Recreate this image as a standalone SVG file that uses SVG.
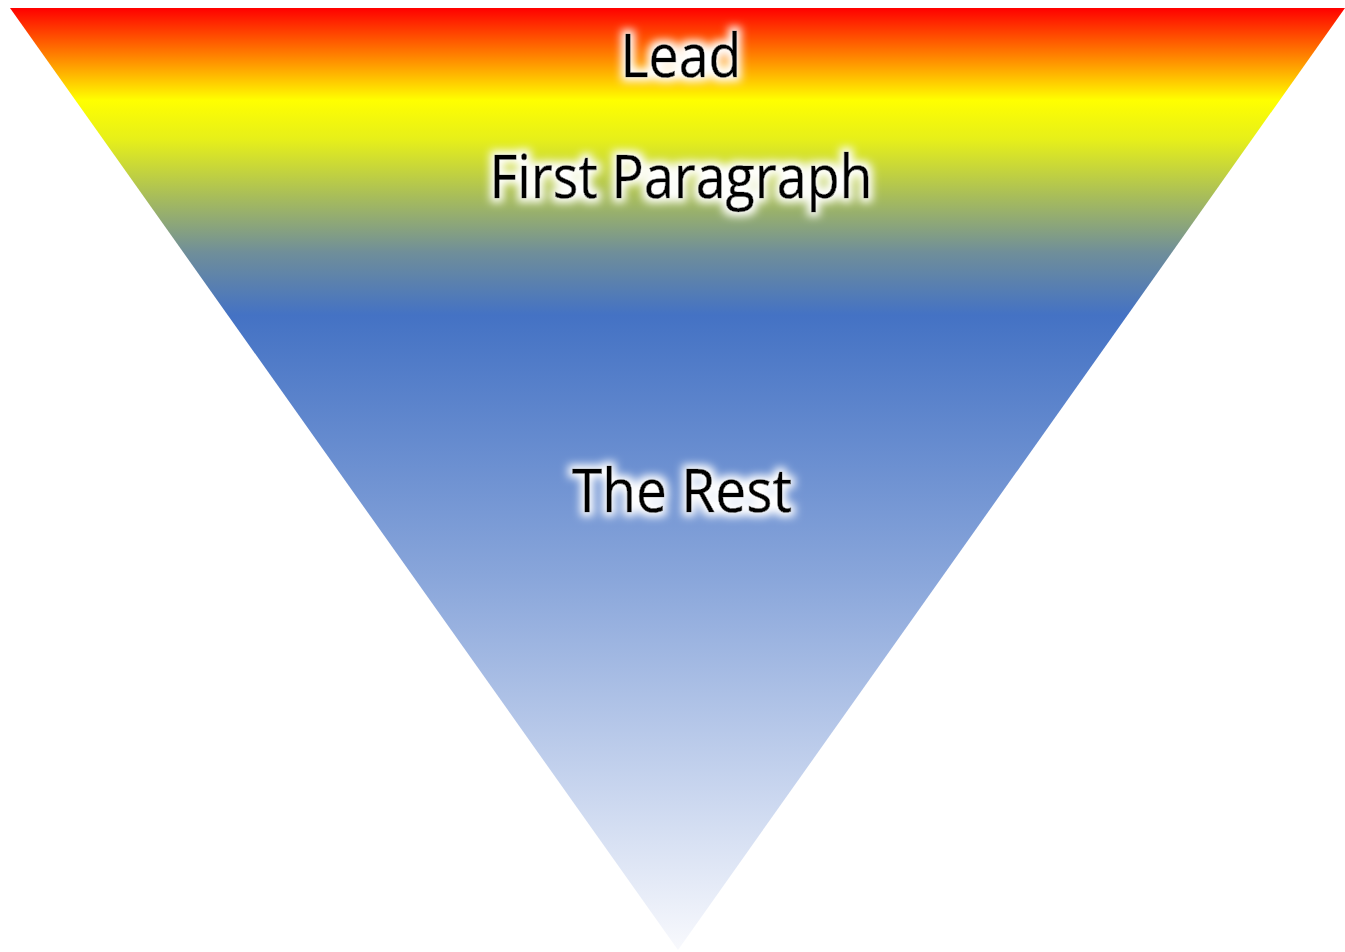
<svg xmlns="http://www.w3.org/2000/svg" width="1345" height="952" viewBox="0 0 1345 952">
  <defs>
    <linearGradient id="fill" x1="0" y1="8" x2="0" y2="950" gradientUnits="userSpaceOnUse">
      <stop offset="0" stop-color="#ff0000"/>
      <stop offset="0.05" stop-color="#ff8000"/>
      <stop offset="0.098" stop-color="#ffff00"/>
      <stop offset="0.14" stop-color="#e6ef1a"/>
      <stop offset="0.2" stop-color="#a8bd5a"/>
      <stop offset="0.26" stop-color="#6f8e9a"/>
      <stop offset="0.326" stop-color="#4472c4"/>
      <stop offset="0.6" stop-color="#88a5da"/>
      <stop offset="0.8" stop-color="#c0cfec"/>
      <stop offset="1" stop-color="#f8f9fd"/>
    </linearGradient>
    <filter id="glow" x="-20%" y="-40%" width="140%" height="180%">
      <feMorphology in="SourceAlpha" operator="dilate" radius="4" result="d"/>
      <feGaussianBlur in="d" stdDeviation="4.5" result="b"/>
      <feFlood flood-color="#ffffff" flood-opacity="1"/>
      <feComposite in2="b" operator="in" result="g"/>
      <feMerge>
        <feMergeNode in="g"/>
        <feMergeNode in="SourceGraphic"/>
      </feMerge>
    </filter>
  </defs>
  <style>
    .lbl { font-family: "Open Sans", "Noto Sans", "Liberation Sans", sans-serif; fill: #000000; text-anchor: middle; filter: url(#glow); stroke: #000000; stroke-width: 0.6; }
  </style>
  <g id="funnel">
    <polygon points="10,8 1345,8 678,950" fill="url(#fill)"/>
  </g>
  <g id="lead">
    <text class="lbl" x="681" y="77" font-size="60" textLength="121" lengthAdjust="spacingAndGlyphs">Lead</text>
  </g>
  <g id="first-paragraph">
    <text class="lbl" x="681" y="198" font-size="60" textLength="383" lengthAdjust="spacingAndGlyphs">First Paragraph</text>
  </g>
  <g id="the-rest">
    <text class="lbl" x="682" y="512" font-size="60" textLength="220" lengthAdjust="spacingAndGlyphs">The Rest</text>
  </g>
  <g id="connectors"></g>
</svg>
